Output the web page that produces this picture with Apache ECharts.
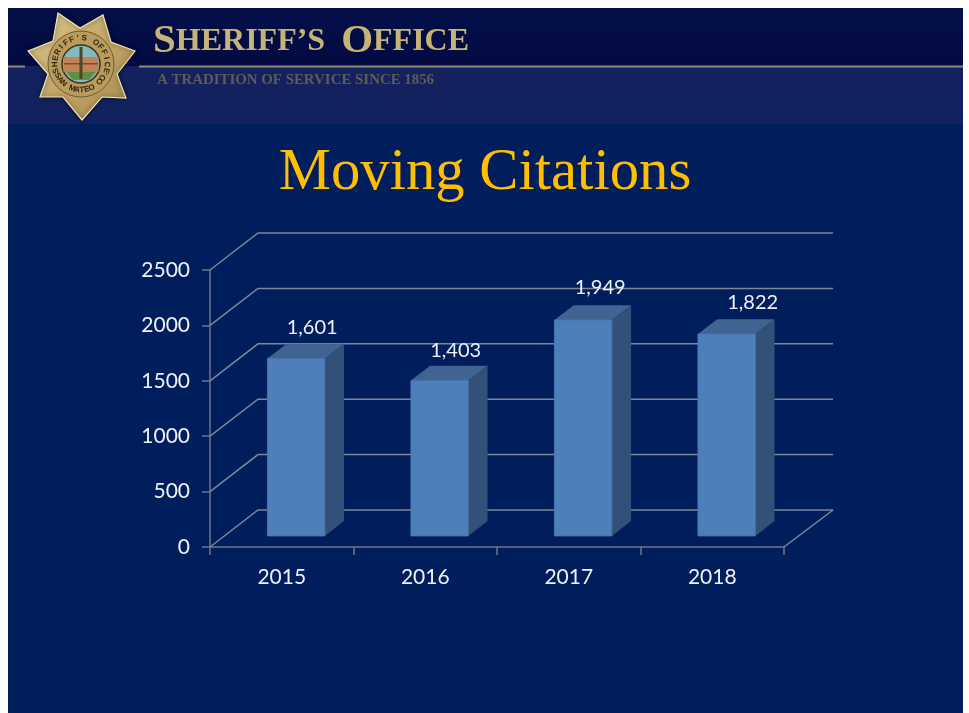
<!DOCTYPE html>
<html>
<head>
<meta charset="utf-8">
<title>Moving Citations</title>
<script src="https://cdn.jsdelivr.net/npm/echarts@6/dist/echarts.min.js"></script>
<style>
  html, body { margin: 0; padding: 0; background: #fff; }
  #chart { width: 969px; height: 713px; }
</style>
</head>
<body>
<div id="chart"></div>
<script>
const years = ["2015", "2016", "2017", "2018"];
const citations = [1601, 1403, 1949, 1822];
const yMax = 2500;
const yStep = 500;
const gridValues = [0, 500, 1000, 1500, 2000, 2500];

// Fake 3D: the back wall sits this far behind the front axes.
const DEPTH_X = 48;
const DEPTH_Y = 37;
const BAR_W = 0.4;      // share of a category band
// the labels aren't placed evenly in the original
const LABEL_DX = [16, 16, 17, 26];
const LABEL_DY = [16, 15, 18, 17];

const GRID_LINE = "#7e8699";
const AXIS_LINE = "#6f7788";
const GOLD = "#c6b476";
const LABEL_FONT = "Lato";

function renderWall(params, api) {
  const sys = params.coordSys;
  const y = api.coord([0, api.value(1)])[1];
  const x0 = sys.x;
  const x1 = sys.x + sys.width;
  const children = [{
    type: "polyline",
    shape: { points: [[x0, y], [x0 + DEPTH_X, y - DEPTH_Y], [x1 + DEPTH_X + 1, y - DEPTH_Y]] },
    style: { stroke: GRID_LINE, fill: null, lineWidth: 1.5 },
  }];
  if (api.value(1) === 0) {
    children.push({
      type: "line",
      shape: { x1: x1, y1: y, x2: x1 + DEPTH_X + 1, y2: y - DEPTH_Y },
      style: { stroke: GRID_LINE, lineWidth: 1.5 },
    });
  }
  return { type: "group", children };
}

function renderBar(params, api) {
  const i = api.value(0);
  const v = api.value(1);
  const band = api.size([1, 0])[0];
  const w = band * BAR_W;
  const base = api.coord([i, 0]);
  const top = api.coord([i, v]);
  // bars stand 30% of the way into the floor and take 40% of its depth
  const shiftX = DEPTH_X * 0.3;
  const shiftY = DEPTH_Y * 0.3;
  const dx = DEPTH_X * 0.4;
  const dy = DEPTH_Y * 0.4;
  const xl = base[0] - w / 2 + shiftX;
  const xr = xl + w;
  const yb = base[1] - shiftY;
  const yt = top[1] - shiftY;
  return {
    type: "group",
    children: [
      {
        type: "polygon",
        shape: { points: [[xr, yt], [xr + dx, yt - dy], [xr + dx, yb - dy], [xr, yb]] },
        style: { fill: "#335079" },
      },
      {
        type: "polygon",
        shape: { points: [[xl, yt], [xl + dx, yt - dy], [xr + dx, yt - dy], [xr, yt]] },
        style: { fill: "#3f6491" },
      },
      {
        type: "rect",
        shape: { x: xl, y: yt, width: w, height: yb - yt },
        style: { fill: "#4f7fbb", stroke: "#4674ad", lineWidth: 1 },
      },
      {
        type: "text",
        style: {
          text: String(v).replace(/(\d)(\d{3})$/, "$1,$2"),
          x: base[0] + shiftX + LABEL_DX[i],
          y: yt - dy - LABEL_DY[i],
          align: "center",
          verticalAlign: "middle",
          fill: "#eef1f7",
          font: "20px " + LABEL_FONT,
        },
      },
    ],
  };
}

// Seven pointed star, traced from the badge in the header.
const starPoints = [
  [58, 13], [80, 28], [103, 15], [111, 42], [135, 51], [117, 74], [126, 98],
  [102, 97], [82, 120], [63, 97], [40, 97], [48, 74], [28, 51], [53, 41],
];

function badge() {
  const cx = 81, cy = 64;
  const gold = new echarts.graphic.LinearGradient(0, 0, 1, 1, [
    { offset: 0, color: "#dcc68e" },
    { offset: 0.5, color: "#c2a666" },
    { offset: 1, color: "#a5894e" },
  ]);
  const out = [
    {
      type: "polygon",
      shape: { points: starPoints },
      style: { fill: gold, stroke: "#f0e4ba", lineWidth: 1.2, shadowBlur: 5, shadowColor: "rgba(0,0,0,0.6)" },
    },
    { type: "circle", shape: { cx, cy, r: 33 }, style: { fill: "#b89c5e", stroke: "#6e5930", lineWidth: 1 } },
    { type: "circle", shape: { cx, cy, r: 19 }, style: { fill: "#86b9bd", stroke: "#3d3118", lineWidth: 1.5 } },
    { type: "rect", shape: { x: cx - 17.5, y: cy - 7, width: 35, height: 15 }, style: { fill: "#bd8458" } },
    { type: "rect", shape: { x: cx - 17, y: cy - 1, width: 34, height: 1.5 }, style: { fill: "#a33a2e" } },
    { type: "polygon", shape: { points: [[cx - 15, cy + 8], [cx + 15, cy + 8], [cx + 8, cy + 16], [cx - 8, cy + 16]] }, style: { fill: "#5f8f46" } },
    { type: "rect", shape: { x: cx - 1.5, y: cy - 17, width: 3, height: 32 }, style: { fill: "#4f4526" } },
  ];
  // ring lettering, one rotated glyph at a time
  function ring(text, r, startDeg, stepDeg, flip) {
    text.split("").forEach((ch, k) => {
      const deg = startDeg + k * stepDeg;
      const a = (deg * Math.PI) / 180;
      out.push({
        type: "text",
        x: cx + r * Math.sin(a),
        y: cy - r * Math.cos(a),
        rotation: flip ? -(a - Math.PI) : -a,
        originX: 0,
        originY: 0,
        style: { text: ch, font: "bold 8px 'Liberation Sans'", fill: "#33260f", align: "center", verticalAlign: "middle" },
      });
    });
  }
  ring("SHERIFF'S OFFICE", 26, -105, 14, false);
  ring("SAN MATEO CO.", 26, 244, -11, true);
  return out;
}

const header = [
  { type: "rect", shape: { x: 8, y: 8, width: 955, height: 705 }, style: { fill: "#001e5c" } },
  {
    type: "rect",
    shape: { x: 8, y: 8, width: 955, height: 58 },
    style: { fill: new echarts.graphic.LinearGradient(0, 0, 0, 1, [{ offset: 0, color: "#040f4a" }, { offset: 1, color: "#020a40" }]) },
  },
  { type: "rect", shape: { x: 8, y: 66, width: 955, height: 58 }, style: { fill: "#13225e" } },
  { type: "rect", shape: { x: 8, y: 65.5, width: 17, height: 2 }, style: { fill: "#8d8a78" } },
  { type: "rect", shape: { x: 139, y: 65.5, width: 824, height: 2 }, style: { fill: "#8d8a78" } },
  ...badge(),
  {
    type: "text",
    x: 153,
    y: 62,
    style: {
      text: "{a|S}{b|HERIFF’S  }{a|O}{b|FFICE}",
      rich: {
        a: { font: "bold 41px 'Liberation Serif'", fill: GOLD },
        b: { font: "bold 32px 'Liberation Serif'", fill: GOLD },
      },
      verticalAlign: "bottom",
    },
  },
  {
    type: "text",
    x: 157,
    y: 80,
    style: { text: "A TRADITION OF SERVICE SINCE 1856", font: "bold 14.9px 'Liberation Serif'", fill: "#5e5b58", verticalAlign: "middle" },
  },
  {
    type: "text",
    x: 485,
    y: 174,
    style: { text: "Moving Citations", font: "58.7px 'Liberation Serif'", fill: "#ffbf00", align: "center", verticalAlign: "middle" },
  },
];

const chart = echarts.init(document.getElementById("chart"), null, { renderer: "canvas" });
chart.setOption({
  animation: false,
  backgroundColor: "#ffffff",
  graphic: { elements: header },
  grid: { left: 210, right: 185, top: 270, height: 277 },
  xAxis: {
    type: "category",
    data: years,
    axisLine: { lineStyle: { color: AXIS_LINE, width: 1.5 } },
    axisTick: { show: true, length: 8, lineStyle: { color: AXIS_LINE, width: 1.5 } },
    axisLabel: { color: "#eef1f7", fontSize: 21, fontFamily: LABEL_FONT, margin: 20 },
  },
  yAxis: {
    type: "value",
    min: 0,
    max: yMax,
    interval: yStep,
    axisLine: { show: true, lineStyle: { color: AXIS_LINE, width: 1.5 } },
    axisTick: { show: true, length: 8, lineStyle: { color: AXIS_LINE, width: 1.5 } },
    axisLabel: { color: "#eef1f7", fontSize: 21, fontFamily: LABEL_FONT, margin: 20, formatter: (v) => String(v) },
    splitLine: { show: false },
  },
  series: [
    {
      type: "custom",
      z: 1,
      renderItem: renderWall,
      encode: { x: 0, y: 1 },
      data: gridValues.map((v) => [0, v]),
    },
    {
      type: "custom",
      z: 3,
      renderItem: renderBar,
      encode: { x: 0, y: 1 },
      data: citations.map((v, i) => [i, v]),
    },
  ],
});
</script>
</body>
</html>
